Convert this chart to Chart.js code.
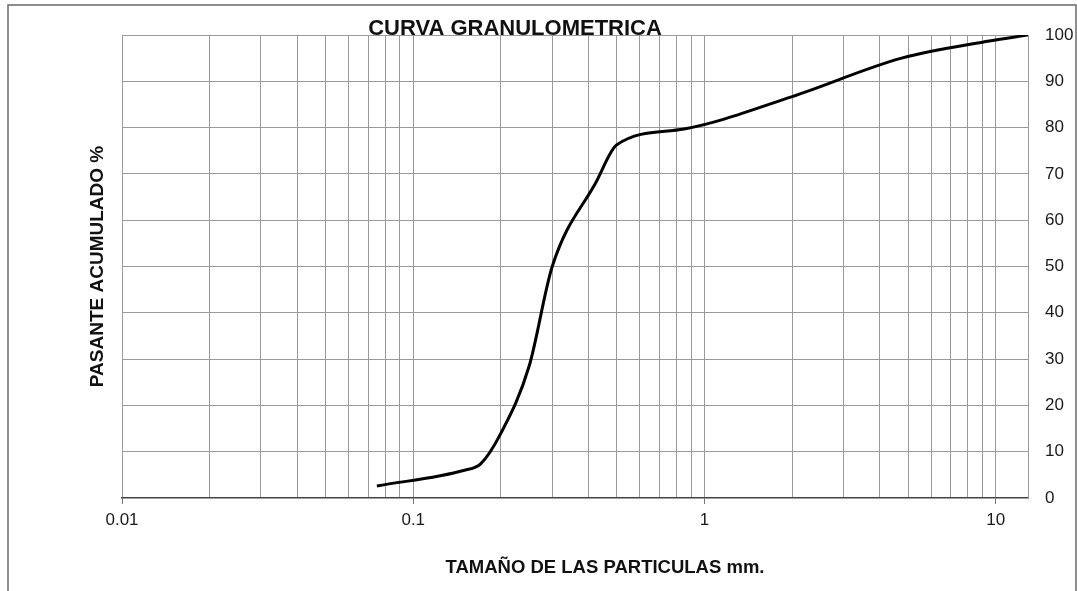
<!DOCTYPE html>
<html>
<head>
<meta charset="utf-8">
<script src="https://cdn.jsdelivr.net/npm/chart.js@4"></script>
<style>
  html, body { margin: 0; padding: 0; background: #fff; }
  #wrap { width: 1077px; height: 591px; }
</style>
</head>
<body>
<div id="wrap"><canvas id="chart" width="1077" height="591"></canvas></div>
<script>
// particle size (mm) and cumulative passing (%)
const sizes = [0.075, 0.15, 0.17, 0.2, 0.25, 0.3, 0.425, 0.5, 0.85, 2, 4.75, 9.5, 12.9];
const passing = [2.6, 6.0, 7.3, 14, 28.5, 50, 68.3, 76.3, 79.7, 86.7, 95, 98.7, 100];

const xMin = 0.01;
const xMax = 12.9;
const xLabels = [0.01, 0.1, 1, 10];
const xGrid = [];
for (let d = 0.01; d < 20; d *= 10) {
  for (let m = 1; m <= 9; m++) {
    const v = +(m * d).toPrecision(3);
    if (v <= xMax) xGrid.push(v);
  }
}
const yTicks = [0, 10, 20, 30, 40, 50, 60, 70, 80, 90, 100];

const title = 'CURVA GRANULOMETRICA';
const xTitle = 'TAMAÑO DE LAS PARTICULAS mm.';
const yTitle = 'PASANTE ACUMULADO %';

const FONT = '"Liberation Sans", Arial, sans-serif';
const GRID = '#9a9a9a';

const isLabel = v => xLabels.some(l => Math.abs(l - v) < 1e-9);

const decorations = {
  id: 'decorations',
  beforeDraw(chart) {
    const { ctx } = chart;
    ctx.save();
    ctx.strokeStyle = '#6a6a6a';
    ctx.lineWidth = 1.5;
    ctx.strokeRect(8, 5, 1068, 620);
    ctx.restore();
  },
  afterDraw(chart) {
    const { ctx, chartArea: a } = chart;
    ctx.save();
    ctx.fillStyle = '#111';
    ctx.textAlign = 'center';
    ctx.textBaseline = 'alphabetic';
    ctx.font = 'bold 22px ' + FONT;
    ctx.fillText(title, a.left + 393, a.top);
    ctx.font = 'bold 18.5px ' + FONT;
    ctx.fillText(xTitle, a.left + 483, a.bottom + 75);
    ctx.font = 'bold 19px ' + FONT;
    ctx.translate(a.left - 19, (a.top + a.bottom) / 2);
    ctx.rotate(-Math.PI / 2);
    ctx.fillText(yTitle, 0, 0);
    ctx.restore();
  }
};

new Chart(document.getElementById('chart'), {
  type: 'scatter',
  data: {
    datasets: [{
      data: sizes.map((s, i) => ({ x: s, y: passing[i] })),
      showLine: true,
      borderColor: '#000',
      borderWidth: 3,
      pointRadius: 0,
      cubicInterpolationMode: 'monotone',
      fill: false
    }]
  },
  options: {
    responsive: false,
    animation: false,
    layout: { padding: { left: 122, top: 35, right: 0, bottom: 0 } },
    plugins: { legend: { display: false }, tooltip: { enabled: false } },
    scales: {
      x: {
        type: 'logarithmic',
        min: xMin,
        max: xMax,
        afterBuildTicks: s => { s.ticks = xGrid.map(v => ({ value: v })); },
        afterFit: s => { s.height = 93; },
        grid: {
          color: GRID,
          lineWidth: 1,
          tickLength: 6,
          tickColor: c => (c.tick && isLabel(c.tick.value)) ? '#777' : 'rgba(0,0,0,0)'
        },
        border: { display: true, color: '#444', width: 1.5 },
        ticks: {
          autoSkip: false,
          maxRotation: 0,
          padding: 6,
          color: '#1a1a1a',
          font: { family: FONT, size: 17 },
          callback: v => isLabel(v) ? String(v) : ''
        }
      },
      y: {
        position: 'right',
        min: 0,
        max: 100,
        afterBuildTicks: s => { s.ticks = yTicks.map(v => ({ value: v })); },
        afterFit: s => { s.width = 49; },
        grid: {
          color: c => c.tick && c.tick.value === 0 ? 'rgba(0,0,0,0)' : GRID,
          lineWidth: 1,
          drawTicks: false
        },
        border: { display: true, color: GRID, width: 1 },
        ticks: {
          padding: 17,
          color: '#1a1a1a',
          font: { family: FONT, size: 17 }
        }
      }
    }
  },
  plugins: [decorations]
});
</script>
</body>
</html>
